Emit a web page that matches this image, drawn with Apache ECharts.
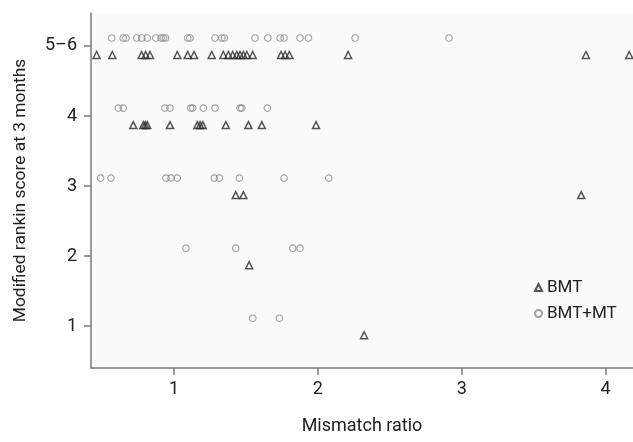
<!DOCTYPE html>
<html>
<head>
<meta charset="utf-8">
<script src="https://cdn.jsdelivr.net/npm/echarts@6/dist/echarts.min.js"></script>
<style>
html,body{margin:0;padding:0;background:#fff;}
#c{width:633px;height:442px;}
</style>
</head>
<body>
<div id="c"></div>
<script>
// Data (mismatch ratio vs modified Rankin score; score 5 = "5–6")
const bmtRatio = [0.462,0.571,0.775,0.803,0.833,1.023,1.095,1.139,1.262,1.343,1.378,1.408,1.436,1.459,1.482,1.506,1.547,1.744,1.772,1.802,2.210,3.863,4.164,
  0.717,0.787,0.800,0.814,0.972,1.162,1.181,1.200,1.360,1.517,1.610,1.987,
  1.429,1.482,3.830,
  1.522,
  2.321];
const bmtScore = [5,5,5,5,5,5,5,5,5,5,5,5,5,5,5,5,5,5,5,5,5,5,5,
  4,4,4,4,4,4,4,4,4,4,4,4,
  3,3,3,
  2,
  1];
const bmtmtRatio = [0.567,0.647,0.666,0.741,0.775,0.814,0.873,0.910,0.926,0.941,1.095,1.111,1.285,1.332,1.350,1.563,1.652,1.737,1.765,1.876,1.934,2.259,2.911,
  0.613,0.647,0.937,0.972,1.116,1.130,1.204,1.285,1.459,1.471,1.649,
  0.490,0.562,0.944,0.979,1.023,1.280,1.315,1.454,1.765,2.076,
  1.083,1.429,1.825,1.876,
  1.547,1.732];
const bmtmtScore = [5,5,5,5,5,5,5,5,5,5,5,5,5,5,5,5,5,5,5,5,5,5,5,
  4,4,4,4,4,4,4,4,4,4,4,
  3,3,3,3,3,3,3,3,3,3,
  2,2,2,2,
  1,1];
const xTicks = [1,2,3,4];
const yTicks = [1,2,3,4,5];
const yTickLabels = ['1','2','3','4','5–6'];
const seriesNames = ['BMT','BMT+MT'];
const xTitle = 'Mismatch ratio';
const yTitle = 'Modified rankin score at 3 months';

const FONT = 'Roboto';
const chart = echarts.init(document.getElementById('c'), null, {renderer:'canvas'});
const axisLineStyle = {color:'#7a7a7a', width:1.5};
chart.setOption({
  animation:false,
  backgroundColor:'#ffffff',
  grid:{left:91,right:0,top:13,bottom:74,show:true,backgroundColor:'#fafafa',borderWidth:0},
  xAxis:{
    type:'value', min:0.423, max:4.19,
    name:xTitle, nameLocation:'middle', nameGap:49,
    nameTextStyle:{fontFamily:FONT,fontSize:18,color:'#222'},
    axisLine:{show:true,lineStyle:axisLineStyle},
    axisTick:{show:true,length:7,customValues:xTicks,lineStyle:{color:'#7a7a7a',width:1.5}},
    axisLabel:{customValues:xTicks,fontFamily:FONT,fontSize:18,color:'#222',margin:12},
    splitLine:{show:false}
  },
  yAxis:{
    type:'value', min:0.404, max:5.471,
    name:yTitle, nameLocation:'middle', nameGap:62, nameRotate:90,
    nameTextStyle:{fontFamily:FONT,fontSize:17.4,color:'#222'},
    axisLine:{show:true,lineStyle:axisLineStyle},
    axisTick:{show:true,length:7,customValues:yTicks,lineStyle:{color:'#7a7a7a',width:1.5}},
    axisLabel:{customValues:yTicks,fontFamily:FONT,fontSize:18,color:'#222',margin:14,
      formatter:function(v){const i=yTicks.indexOf(Math.round(v));return i>=0?yTickLabels[i]:'';}},
    splitLine:{show:false}
  },
  legend:{
    orient:'vertical', left:534, top:279, itemGap:9, itemWidth:7, itemHeight:7, padding:0,
    textStyle:{fontFamily:FONT,fontSize:17,color:'#222'},
    data:seriesNames
  },
  series:[
    {
      name:seriesNames[0], type:'scatter', symbol:'triangle', symbolSize:7, symbolOffset:[0,9],
      itemStyle:{color:'rgba(255,255,255,0)',borderColor:'#2b2b2b',borderWidth:1.5},
      data:bmtRatio.map((x,i)=>[x,bmtScore[i]])
    },
    {
      name:seriesNames[1], type:'scatter', symbol:'circle', symbolSize:6.5, symbolOffset:[0,-8],
      itemStyle:{color:'rgba(255,255,255,0)',borderColor:'#8c8c8c',borderWidth:1.2},
      data:bmtmtRatio.map((x,i)=>[x,bmtmtScore[i]])
    }
  ]
});
</script>
</body>
</html>
